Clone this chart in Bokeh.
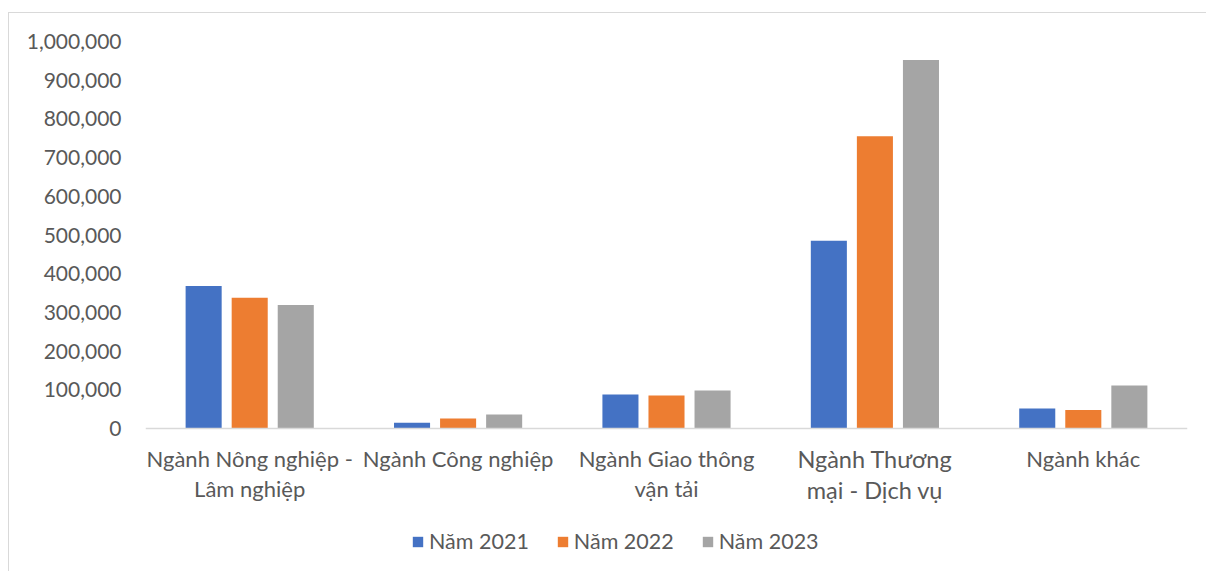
from bokeh.plotting import figure
from bokeh.models import (FactorRange, Range1d, ColumnDataSource, Legend, LegendItem,
                          NumeralTickFormatter, FixedTicker, Span)
from bokeh.core.properties import value
from bokeh.transform import dodge
from bokeh.embed import file_html
from bokeh.resources import INLINE

categories = ["Ngành Nông nghiệp -\nLâm nghiệp", "Ngành Công nghiệp",
              "Ngành Giao thông\nvận tải", "Ngành Thương\nmại - Dịch vụ", "Ngành khác"]
series_names = ["Năm 2021", "Năm 2022", "Năm 2023"]
v2021 = [368000, 15000, 88000, 485000, 52000]
v2022 = [338000, 26000, 85000, 755000, 48000]
v2023 = [319000, 36000, 98000, 952000, 111000]
colors = ["#4472C4", "#ED7D31", "#A5A5A5"]
y_ticks = [0, 100000, 200000, 300000, 400000, 500000, 600000, 700000, 800000, 900000, 1000000]

FONT = "Lato"
TXT = "#595959"

# pixel geometry: frame top 28px below figure top, value 0 sits 387px below frame top,
# frame bottom 531px below frame top (room for category labels and legend inside frame)
Y_MAX = 1000000
y_min = -Y_MAX * (531 - 387) / 387

label_sizes = ["23.5px" if c.startswith("Ngành Thương") else "22px" for c in categories]
src = ColumnDataSource(dict(cat=categories, a=v2021, b=v2022, c=v2023,
                            zero=[0] * len(categories), fs=label_sizes))

p = figure(x_range=FactorRange(*categories, range_padding=0), y_range=Range1d(y_min, Y_MAX),
           width=1198, height=559, output_backend="svg", toolbar_location=None,
           min_border_left=136, min_border_right=20, min_border_top=28, min_border_bottom=0,
           styles={"margin-left": "8px", "margin-top": "12px",
                   "border-left": "1px solid #d9d9d9", "border-top": "1px solid #d9d9d9"})
p.outline_line_color = None
p.xgrid.grid_line_color = None
p.ygrid.grid_line_color = None
p.xaxis.visible = False

offs = [-0.221, 0.0, 0.221]
renderers = []
for col, off, color in zip(["a", "b", "c"], offs, colors):
    r = p.vbar(x=dodge("cat", off, range=p.x_range), top=col, width=0.173, bottom=0,
               source=src, fill_color=color, line_color=None)
    renderers.append(r)

# category axis line at zero
p.add_layout(Span(location=0, dimension="width", line_color="#d9d9d9", line_width=1.5))

# category labels below the axis line
p.text(x="cat", y="zero", text="cat", source=src, y_offset=16,
       text_align="center", text_baseline="top", text_font=value(FONT),
       text_font_size="fs", text_color=TXT, text_line_height=1.12)

# y axis
p.yaxis.ticker = FixedTicker(ticks=y_ticks)
p.yaxis.formatter = NumeralTickFormatter(format="0,0")
p.yaxis.axis_line_color = None
p.yaxis.major_tick_line_color = None
p.yaxis.minor_tick_line_color = None
p.yaxis.major_label_standoff = 18
p.yaxis.major_label_text_font = FONT
p.yaxis.major_label_text_font_size = "21px"
p.yaxis.major_label_text_color = TXT

legend = Legend(items=[LegendItem(label=n, renderers=[r]) for n, r in zip(series_names, renderers)],
                orientation="horizontal", location=(266, 18),
                glyph_width=13, glyph_height=13, label_standoff=5, spacing=27,
                padding=0, margin=0, border_line_color=None, background_fill_alpha=0,
                label_text_font=FONT, label_text_font_size="21.5px", label_text_color=TXT)
p.add_layout(legend, "center")

open("out.html", "w").write(file_html(p, INLINE))
